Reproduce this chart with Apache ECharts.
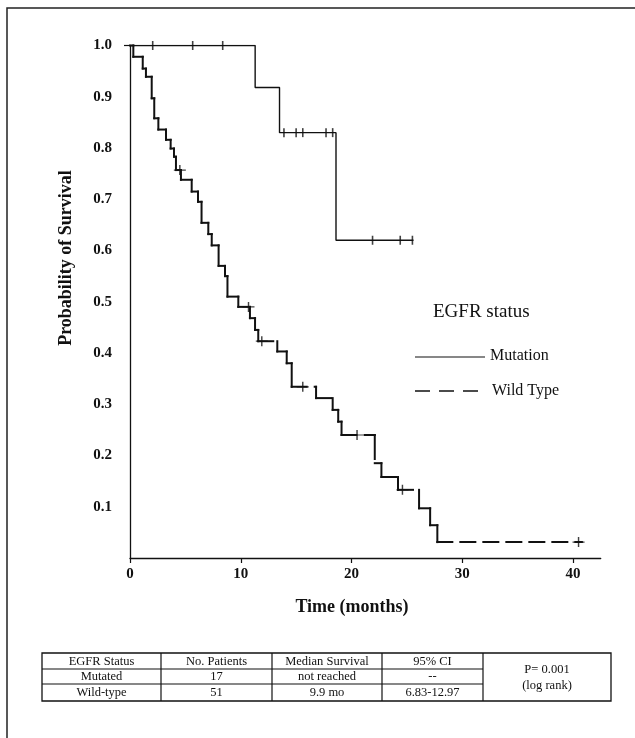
<!DOCTYPE html>
<html>
<head>
<meta charset="utf-8">
<script src="https://cdn.jsdelivr.net/npm/echarts@6/dist/echarts.min.js"></script>
<style>
html, body { margin: 0; padding: 0; background: #fff; }
#chart { width: 635px; height: 738px; }
</style>
</head>
<body>
<div id="chart"></div>
<script>
// Kaplan-Meier steps (time in months, survival after the drop)
var mutTimes = [0, 11.3, 13.5, 18.6];
var mutSurv = [1.0, 0.918, 0.83, 0.62];
var mutEnd = 25.6;
var mutCensorT = [2.05, 5.66, 8.37, 13.9, 15.0, 15.6, 17.7, 18.3, 21.9, 24.4, 25.5];
var mutCensorS = [1.0, 1.0, 1.0, 0.83, 0.83, 0.83, 0.83, 0.83, 0.62, 0.62, 0.62];

var wtTimes = [0, 0.3, 1.15, 1.44, 1.96, 2.19, 2.56, 3.25, 3.67, 3.97, 4.15, 4.6, 5.57, 6.14, 6.46,
  7.07, 7.38, 8.0, 8.58, 8.8, 9.78, 10.83, 11.29, 11.58, 13.3, 14.15, 14.6, 16.8, 18.3, 18.8,
  19.1, 22.1, 22.7, 24.2, 26.1, 27.1, 27.75];
var wtSurv = [1.0, 0.978, 0.955, 0.939, 0.897, 0.858, 0.836, 0.816, 0.799, 0.783, 0.757, 0.738, 0.715, 0.695, 0.654,
  0.632, 0.61, 0.57, 0.55, 0.51, 0.49, 0.468, 0.445, 0.423, 0.403, 0.38, 0.334, 0.312, 0.289, 0.266,
  0.24, 0.185, 0.158, 0.133, 0.097, 0.064, 0.031];
var wtEnd = 40.8;
var wtCensorT = [4.5, 10.7, 11.9, 15.6, 20.5, 24.6, 40.5];
var wtCensorS = [0.757, 0.49, 0.423, 0.334, 0.24, 0.133, 0.031];

var xTicks = [0, 10, 20, 30, 40];
var yTicks = [0.1, 0.2, 0.3, 0.4, 0.5, 0.6, 0.7, 0.8, 0.9, 1.0];

var tableHeader = ['EGFR Status', 'No. Patients', 'Median Survival', '95% CI'];
var tableRows = [
  ['Mutated', '17', 'not reached', '--'],
  ['Wild-type', '51', '9.9 mo', '6.83-12.97']
];
var pText = ['P= 0.001', '(log rank)'];

var serif = "'Liberation Serif', 'Times New Roman', serif";

// mutation: plain step line
var mutData = [];
for (var i = 0; i < mutTimes.length; i++) mutData.push([mutTimes[i], mutSurv[i]]);
mutData.push([mutEnd, mutSurv[mutSurv.length - 1]]);

// wild type: one item per step so each piece restarts its dash
var wtData = [];
for (var i = 0; i < wtTimes.length; i++) {
  var last = i == wtTimes.length - 1;
  wtData.push([wtTimes[i], last ? wtEnd : wtTimes[i + 1], wtSurv[i], last ? wtSurv[i] : wtSurv[i + 1]]);
}

var mutCensor = [], wtCensor = [];
for (var i = 0; i < mutCensorT.length; i++) mutCensor.push([mutCensorT[i], mutCensorS[i]]);
for (var i = 0; i < wtCensorT.length; i++) wtCensor.push([wtCensorT[i], wtCensorS[i]]);

function renderStep(params, api) {
  var a = api.coord([api.value(0), api.value(2)]);
  var b = api.coord([api.value(1), api.value(2)]);
  var c = api.coord([api.value(1), api.value(3)]);
  var hs = { stroke: '#111', lineWidth: 2, lineDash: [15, 8], lineCap: 'square', fill: null };
  var vs = { stroke: '#111', lineWidth: 2, lineDash: [24, 7], lineCap: 'square', fill: null };
  var kids = [{ type: 'line', shape: { x1: a[0], y1: a[1], x2: b[0], y2: b[1] }, style: hs }];
  if (c[1] != b[1]) kids.push({ type: 'line', shape: { x1: b[0], y1: b[1], x2: c[0], y2: c[1] }, style: vs });
  return { type: 'group', children: kids };
}

// table built as graphic elements
var colEdges = [42, 161, 272, 382, 483, 611];
var rowEdges = [653, 669, 684, 701];
var graphics = [];
graphics.push({ type: 'rect', shape: { x: 7, y: 8, width: 640, height: 740 },
  style: { fill: null, stroke: '#222', lineWidth: 1.5 }, silent: true });
graphics.push({ type: 'rect', shape: { x: colEdges[0], y: rowEdges[0], width: colEdges[5] - colEdges[0], height: rowEdges[3] - rowEdges[0] },
  style: { fill: null, stroke: '#111', lineWidth: 1.3 } });
for (var c = 1; c < colEdges.length - 1; c++) {
  graphics.push({ type: 'line', shape: { x1: colEdges[c], y1: rowEdges[0], x2: colEdges[c], y2: rowEdges[3] },
    style: { stroke: '#111', lineWidth: 1.2 } });
}
for (var r = 1; r < rowEdges.length - 1; r++) {
  graphics.push({ type: 'line', shape: { x1: colEdges[0], y1: rowEdges[r], x2: colEdges[4], y2: rowEdges[r] },
    style: { stroke: '#111', lineWidth: 1.2 } });
}
var allRows = [tableHeader].concat(tableRows);
for (var r = 0; r < allRows.length; r++) {
  for (var c = 0; c < allRows[r].length; c++) {
    graphics.push({ type: 'text', style: {
      text: allRows[r][c], x: (colEdges[c] + colEdges[c + 1]) / 2, y: (rowEdges[r] + rowEdges[r + 1]) / 2 + 0.5,
      font: '12.5px ' + serif, fill: '#111', textAlign: 'center', textVerticalAlign: 'middle' } });
  }
}
graphics.push({ type: 'text', style: { text: pText[0], x: (colEdges[4] + colEdges[5]) / 2, y: 670,
  font: '12.5px ' + serif, fill: '#111', textAlign: 'center', textVerticalAlign: 'middle' } });
graphics.push({ type: 'text', style: { text: pText[1], x: (colEdges[4] + colEdges[5]) / 2, y: 686,
  font: '12.5px ' + serif, fill: '#111', textAlign: 'center', textVerticalAlign: 'middle' } });

// axis titles
graphics.push({ type: 'text', x: 66, y: 258, rotation: Math.PI / 2, style: { text: 'Probability of Survival',
  font: 'bold 18px ' + serif, fill: '#111', textAlign: 'center', textVerticalAlign: 'middle' } });
graphics.push({ type: 'text', style: { text: 'Time (months)', x: 352, y: 607,
  font: 'bold 18px ' + serif, fill: '#111', textAlign: 'center', textVerticalAlign: 'middle' } });

// legend
graphics.push({ type: 'text', style: { text: 'EGFR status', x: 433, y: 312,
  font: '19px ' + serif, fill: '#111', textAlign: 'left', textVerticalAlign: 'middle' } });
graphics.push({ type: 'line', shape: { x1: 415, y1: 357, x2: 485, y2: 357 }, style: { stroke: '#111', lineWidth: 1.2 } });
graphics.push({ type: 'text', style: { text: 'Mutation', x: 490, y: 356,
  font: '16px ' + serif, fill: '#111', textAlign: 'left', textVerticalAlign: 'middle' } });
graphics.push({ type: 'line', shape: { x1: 415, y1: 391, x2: 481, y2: 391 },
  style: { stroke: '#111', lineWidth: 1.4, lineDash: [15, 9] } });
graphics.push({ type: 'text', style: { text: 'Wild Type', x: 492, y: 391,
  font: '16px ' + serif, fill: '#111', textAlign: 'left', textVerticalAlign: 'middle' } });

var chart = echarts.init(document.getElementById('chart'));
var option = {
  animation: false,
  backgroundColor: '#fff',
  grid: { left: 130, right: 34.3, top: 45.5, bottom: 180 },
  xAxis: {
    type: 'value', min: 0, max: 42.5, interval: 10,
    splitLine: { show: false },
    axisLine: { onZero: false, lineStyle: { color: '#111', width: 1.3 } },
    axisTick: { show: true, length: 5, customValues: xTicks, lineStyle: { color: '#111', width: 1.2 } },
    axisLabel: { customValues: xTicks, margin: 9, color: '#111', fontFamily: serif, fontWeight: 'bold', fontSize: 15 }
  },
  yAxis: {
    type: 'value', min: 0, max: 1, interval: 0.1,
    splitLine: { show: false },
    axisLine: { show: true, onZero: false, lineStyle: { color: '#111', width: 1.3 } },
    axisTick: { show: true, length: 6, customValues: [1.0], lineStyle: { color: '#111', width: 1.2 } },
    axisLabel: {
      customValues: yTicks, margin: 18, color: '#111', fontFamily: serif, fontWeight: 'bold', fontSize: 15,
      formatter: function (v) { return v.toFixed(1); }
    }
  },
  series: [
    {
      name: 'Mutation', type: 'line', step: 'end', data: mutData, symbol: 'none',
      lineStyle: { color: '#111', width: 1.4 }, z: 3
    },
    {
      name: 'Wild Type', type: 'custom', data: wtData, renderItem: renderStep,
      encode: { x: [0, 1], y: [2, 3] }, z: 3
    },
    {
      name: 'Mutation censored', type: 'scatter', data: mutCensor,
      symbol: 'rect', symbolSize: [1.6, 9], itemStyle: { color: '#111' }, z: 4
    },
    {
      name: 'Wild Type censored', type: 'scatter', data: wtCensor,
      symbol: 'path://M0,4.4H10V5.6H0Z M4.4,0H5.6V10H4.4Z', symbolSize: [12, 10],
      itemStyle: { color: '#111' }, z: 4
    }
  ],
  graphic: graphics
};
chart.setOption(option);
</script>
</body>
</html>
